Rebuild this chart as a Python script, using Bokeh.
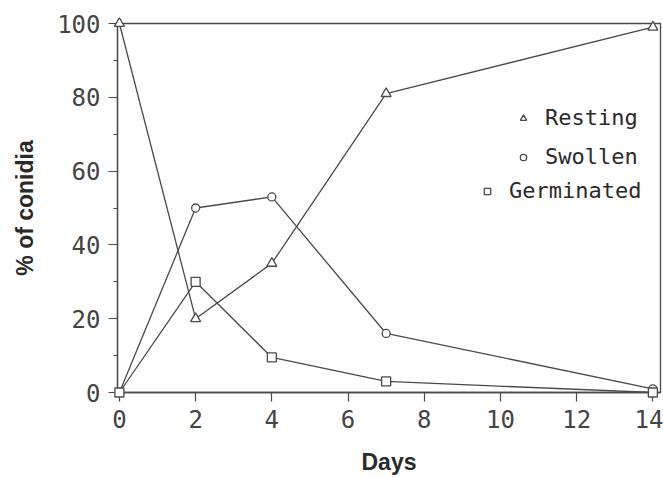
from bokeh.plotting import figure
from bokeh.models import Range1d, FixedTicker, SingleIntervalTicker, Legend, LegendItem
from bokeh.embed import file_html
from bokeh.resources import INLINE

days = [0, 2, 4, 7, 14]
resting = [100, 20, 35, 81, 99]
swollen = [0, 50, 53, 16, 1]
germinated = [0, 30, 9.5, 3, 0]
x_ticks = [0, 2, 4, 6, 8, 10, 12, 14]
y_ticks = [0, 20, 40, 60, 80, 100]

INK = "#4a4a4a"
TICKFONT = "DejaVu Sans Mono"

p = figure(width=663, height=477, output_backend="svg", toolbar_location=None,
           x_range=Range1d(-0.05, 14.2), y_range=Range1d(0, 100),
           min_border_left=117, min_border_right=3, min_border_top=23, min_border_bottom=84)
p.grid.visible = False
p.outline_line_color = INK
p.outline_line_width = 1.3
p.background_fill_color = "white"
p.border_fill_color = "white"

p.xaxis.ticker = FixedTicker(ticks=x_ticks)
p.yaxis.ticker = SingleIntervalTicker(interval=20, num_minor_ticks=2)
for ax in (p.xaxis[0], p.yaxis[0]):
    ax.axis_line_color = INK
    ax.axis_line_width = 1.3
    ax.major_tick_line_color = INK
    ax.major_tick_line_width = 1.2
    ax.minor_tick_line_color = INK
    ax.major_tick_in = 0
    ax.major_tick_out = 9
    ax.minor_tick_in = 0
    ax.minor_tick_out = 4
    ax.major_label_text_font = TICKFONT
    ax.major_label_text_font_size = "24px"
    ax.major_label_text_color = "#444444"
    ax.major_label_standoff = 8
    ax.axis_label_text_font = "Liberation Sans"
    ax.axis_label_text_font_size = "23px"
    ax.axis_label_text_font_style = "bold"
    ax.axis_label_text_color = "#2a2a2a"
p.xaxis.minor_tick_out = 0
p.xaxis.axis_label = "Days"
p.yaxis.axis_label = "% of conidia"
p.xaxis.axis_label_standoff = 18
p.yaxis.axis_label_standoff = 16

series = [("Resting", resting, "triangle", 10), ("Swollen", swollen, "circle", 8),
          ("Germinated", germinated, "square", 9)]
renderers = []
for name, vals, mk, sz in series:
    p.line(days, vals, line_color=INK, line_width=1.3)
    r = p.scatter(days, vals, marker=mk, size=sz, fill_color="white",
                  line_color=INK, line_width=1.3)
    r.level = "overlay"
    renderers.append((name, r))

# one legend per entry so the labels end at the same right edge
locs = [(398, 262), (398, 223), (362, 189)]
for (name, r), loc in zip(renderers, locs):
    lg = Legend(items=[LegendItem(label=name, renderers=[r])], location=loc,
                border_line_color=None, background_fill_alpha=0, padding=0, margin=0,
                glyph_width=16, glyph_height=16, label_standoff=14,
                label_text_font=TICKFONT, label_text_font_size="22px",
                label_text_color="#2a2a2a")
    p.add_layout(lg, "center")

open("out.html", "w").write(file_html(p, INLINE))
